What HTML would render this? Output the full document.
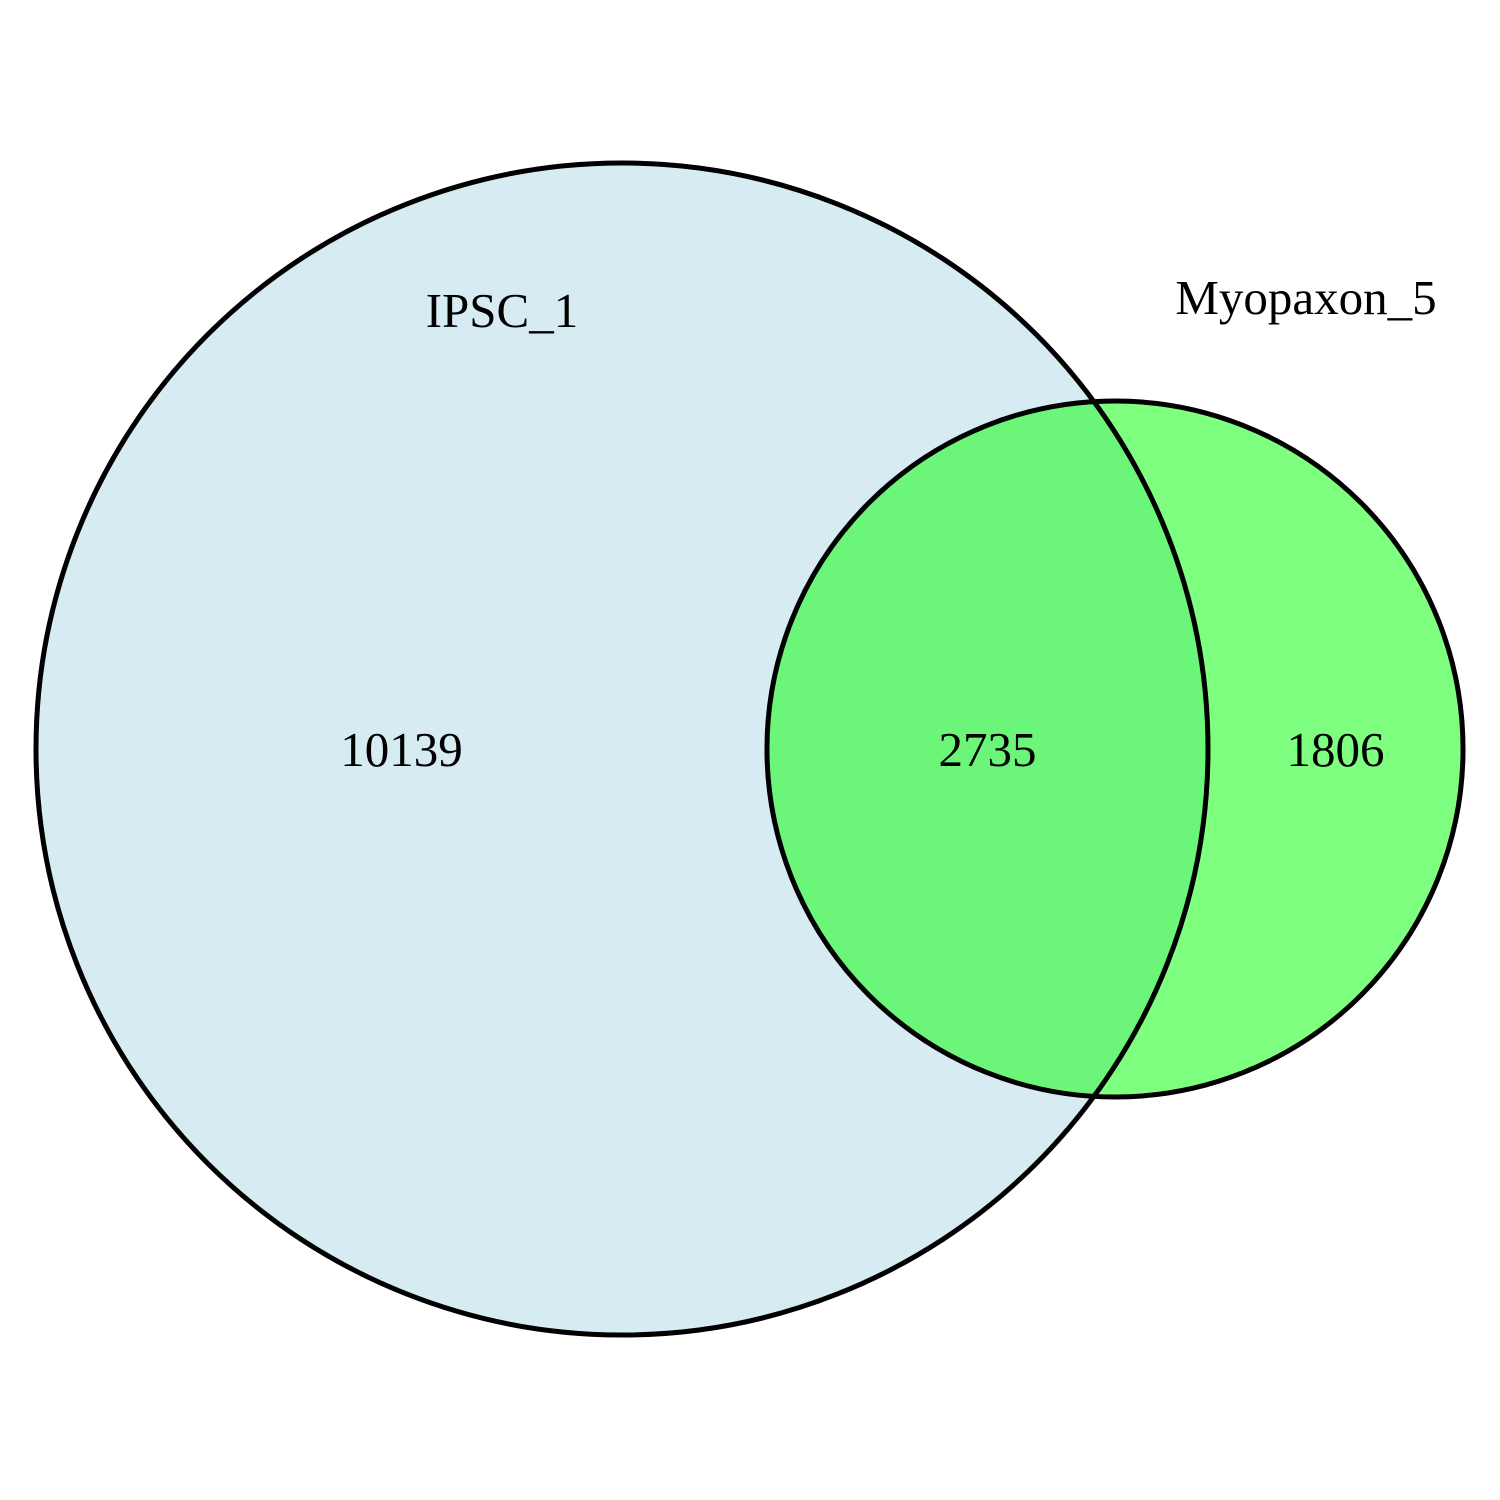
<!DOCTYPE html>
<html>
<head>
<meta charset="utf-8">
<style>
  html, body { margin: 0; padding: 0; background: #ffffff; }
  svg { display: block; }
  text { font-family: "Liberation Serif", "DejaVu Serif", serif; font-size: 49px; fill: #000; }
</style>
</head>
<body>
<svg id="venn" width="1500" height="1500" viewBox="0 0 1500 1500">
  <rect x="0" y="0" width="1500" height="1500" fill="#ffffff"/>
</svg>
<script>
const setNames = ["IPSC_1", "Myopaxon_5"];
const regionCounts = [10139, 2735, 1806]; // only A, A∩B, only B
const setColors = ["#add8e6", "#00ff00"];

const svg = document.getElementById('venn');
const NS = "http://www.w3.org/2000/svg";
const totalA = regionCounts[0] + regionCounts[1];
const totalB = regionCounts[1] + regionCounts[2];
const k = 586 / Math.sqrt(12874);
const rA = k * Math.sqrt(totalA);
const rB = k * Math.sqrt(totalB);
const cy = 749;
const cxA = 622;
const cxB = 1115;

function mk(tag, attrs) {
  const el = document.createElementNS(NS, tag);
  for (const key in attrs) el.setAttribute(key, attrs[key]);
  return el;
}

const circA = mk('circle', {cx: cxA, cy: cy, r: rA, fill: setColors[0], 'fill-opacity': 0.5});


svg.appendChild(circA);

const circB = mk('circle', {cx: cxB, cy: cy, r: rB, fill: setColors[1], 'fill-opacity': 0.5});


svg.appendChild(circB);

const outA = mk('circle', {cx: cxA, cy: cy, r: rA, fill: 'none', stroke: '#000', 'stroke-width': 5});


svg.appendChild(outA);

const outB = mk('circle', {cx: cxB, cy: cy, r: rB, fill: 'none', stroke: '#000', 'stroke-width': 5});


svg.appendChild(outB);

const leftEdgeB = cxB - rB;
const rightEdgeA = cxA + rA;
const countX = [
  (cxA - rA + leftEdgeB) / 2,
  (leftEdgeB + rightEdgeA) / 2,
  (rightEdgeA + cxB + rB) / 2
];
const countNames = ['count-ipsc-1-only', 'count-intersection', 'count-myopaxon-5-only'];
regionCounts.forEach((v, i) => {
  const t = mk('text', {x: countX[i], y: cy + 17, 'text-anchor': 'middle'});
  t.textContent = String(v);
  
  
  svg.appendChild(t);
});

const labA = mk('text', {x: 502, y: 327, 'text-anchor': 'middle'});
labA.textContent = setNames[0];


svg.appendChild(labA);

const labB = mk('text', {x: 1306, y: 314, 'text-anchor': 'middle'});
labB.textContent = setNames[1];


svg.appendChild(labB);
</script>
</body>
</html>
